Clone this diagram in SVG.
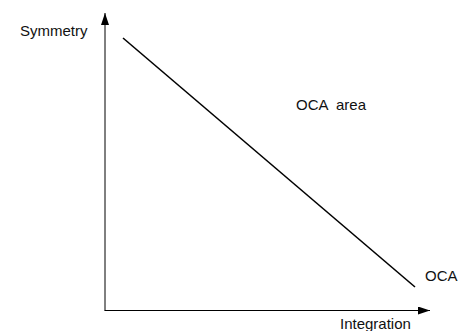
<svg xmlns="http://www.w3.org/2000/svg" width="470" height="331" viewBox="0 0 470 331">
<style>
text{font-family:"Liberation Sans",Arial,sans-serif;font-size:15px;fill:#111}
.ax{stroke:#000;stroke-width:1;fill:none}
.diag{stroke:#000;stroke-width:1.6;fill:none}
</style>
<defs>
<marker id="ah" viewBox="0 0 12 8" refX="12" refY="4" markerWidth="12" markerHeight="8" markerUnits="userSpaceOnUse" orient="auto">
<path d="M0,0 L12,4 L0,8 Z" fill="#000"/>
</marker>
</defs>
<g id="connectors">
<line id="y-axis" class="ax" x1="105" y1="310.5" x2="105" y2="13" marker-end="url(#ah)"/>
<line id="x-axis" class="ax" x1="104.5" y1="310.5" x2="430" y2="310.5" marker-end="url(#ah)"/>
<line id="oca-line" class="diag" x1="123" y1="38" x2="415" y2="287"/>
</g>
<g id="label-symmetry"><text x="20" y="36">Symmetry</text></g>
<g id="label-integration"><text x="340" y="328.5">Integration</text></g>
<g id="label-oca-area"><text x="296" y="110" xml:space="preserve">OCA  area</text></g>
<g id="label-oca"><text x="425" y="281">OCA</text></g>
</svg>
